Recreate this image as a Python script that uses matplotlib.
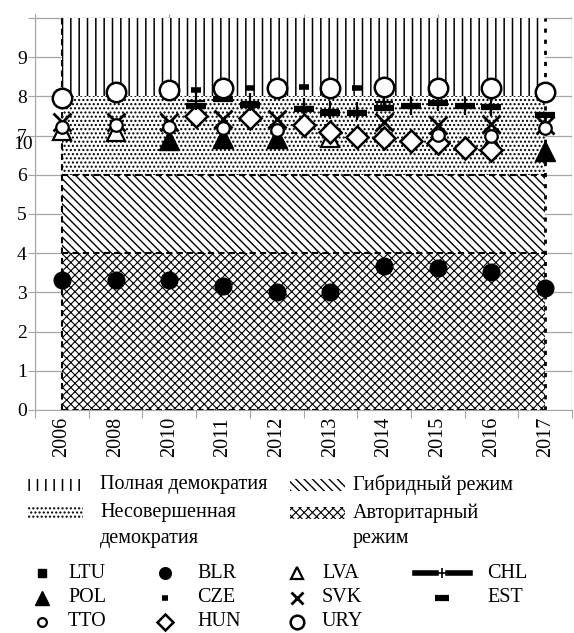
import numpy as np
import matplotlib.pyplot as plt
from matplotlib.patches import Rectangle

plt.rcParams['font.family'] = ['Liberation Serif', 'DejaVu Serif']
plt.rcParams['hatch.linewidth'] = 1.0

# ------------------------------------------
# data
# ------------------------------------------
years = ['2006', '2008', '2010', '2011', '2012', '2013', '2014', '2015', '2016', '2017']

# marker positions on the category axis (some series sit between years)
pos = [0, 1, 2, 2.5, 3, 3.5, 4, 4.5, 5, 5.5, 6, 6.5, 7, 7.5, 8, 9]

nan = np.nan
URY = [7.96, 8.10, 8.15, nan, 8.20, nan, 8.20, nan, 8.20, nan, 8.25, nan, 8.20, nan, 8.20, 8.12]
SVK = [7.35, 7.35, 7.35, nan, 7.42, nan, 7.42, nan, nan, nan, 7.35, nan, 7.27, nan, 7.30, 7.27]
TTO = [7.22, 7.27, 7.22, nan, 7.20, nan, 7.14, nan, nan, nan, nan, nan, 7.02, nan, 7.00, 7.18]
POL = [nan, nan, 6.88, nan, 6.93, nan, 6.93, nan, nan, nan, nan, nan, nan, nan, 6.85, 6.60]
LVA = [7.12, 7.10, nan, nan, 6.90, nan, 6.90, nan, 6.95, nan, nan, nan, nan, nan, nan, nan]
LTU = [nan] * 16
HUN = [nan, nan, nan, 7.50, nan, 7.45, nan, 7.27, 7.08, 6.96, 6.94, 6.85, 6.82, 6.68, 6.64, nan]
CZE = [nan, nan, nan, 8.16, nan, 8.20, nan, 8.25, 8.22, 8.20, nan, nan, nan, nan, nan, nan]
EST = [nan, nan, nan, 7.75, 7.93, 7.78, nan, 7.68, 7.58, 7.57, 7.70, 7.76, 7.83, 7.76, 7.72, 7.52]
CHL = [nan, nan, nan, 7.88, nan, 7.86, nan, 7.72, 7.64, 7.62, 7.86, 7.76, 7.85, 7.76, 7.74, nan]
BLR = [3.32, 3.32, 3.32, nan, 3.15, nan, 3.02, nan, 3.02, nan, 3.66, nan, 3.62, nan, 3.53, 3.11]

series = {'LVA': LVA, 'POL': POL, 'LTU': LTU, 'BLR': BLR, 'HUN': HUN, 'SVK': SVK,
          'TTO': TTO, 'CZE': CZE, 'EST': EST, 'CHL': CHL, 'URY': URY}

# regime bands
band_lo = [0, 4, 6, 8]
band_hi = [4, 6, 8, 10]
band_hatch = ['xxxx', '\\\\\\\\', '....', '||']
band_hlw = [0.8, 1.0, 1.0, 1.1]
band_names = ['Авторитарный\nрежим', 'Гибридный режим', 'Несовершенная\nдемократия', 'Полная демократия']

styles = {
    'LTU': dict(marker='s', ms=9, mfc='black', mec='black'),
    'POL': dict(marker='^', ms=14, mfc='black', mec='black'),
    'TTO': dict(marker='o', ms=9, mfc='white', mec='black', mew=1.6),
    'BLR': dict(marker='o', ms=12, mfc='black', mec='black'),
    'CZE': dict(marker='_', ms=7, mew=4, mec='black'),
    'HUN': dict(marker='D', ms=11.5, mfc='white', mec='black', mew=1.8),
    'LVA': dict(marker='^', ms=13, mfc='white', mec='black', mew=1.6),
    'SVK': dict(marker='x', ms=13, mec='black', mew=2),
    'URY': dict(marker='o', ms=14, mfc='white', mec='black', mew=1.8),
    'CHL': dict(marker='+', ms=13, mec='black', mew=1.6),
    'EST': dict(marker='_', ms=15, mew=4.5, mec='black'),
}


def hatch_lw(artist, lw):
    if hasattr(artist, 'set_hatch_linewidth'):
        artist.set_hatch_linewidth(lw)


# ------------------------------------------
# chart
# ------------------------------------------
fig = plt.figure(figsize=(5.74, 6.33), dpi=100)
ax = fig.add_axes([35 / 574, 1 - 410 / 633, 537 / 574, 396 / 633])
ax.set_xlim(-0.5, 9.5)
ax.set_ylim(0, 10.1)

x0, x1 = 0, len(years) - 1
for lo, hi, h, hl in zip(band_lo, band_hi, band_hatch, band_hlw):
    coll = ax.fill_between([x0, x1], lo, hi, facecolor='white', edgecolor='black',
                           hatch=h, linewidth=0, zorder=1)
    hatch_lw(coll, hl)
ax.hlines([0, 4, 6], x0, x1, colors='black', linestyles=(0, (3, 2)), lw=1.5, zorder=2)
ax.vlines(x0, 0, 10, colors='black', linestyles=(0, (3, 2)), lw=1.5, zorder=2)
ax.vlines(x1, 0, 10, colors='black', linestyles=(0, (1.5, 2.5)), lw=2, zorder=2)

grey = '#a6a6a6'
ax.set_yticks(range(11))
ax.set_yticklabels([str(i) for i in range(10)] + [''])
ax.yaxis.grid(True, color=grey, lw=0.9)
ax.vlines([-0.5, 2, 4.5, 7, 9.5], 0, 10.1, colors=grey, lw=0.9, zorder=0.5)
ax.set_axisbelow(True)

ax.set_xticks(np.arange(-0.5, 10, 1))
ax.set_xticklabels([])
ax.set_xticks(range(len(years)), minor=True)
ax.set_xticklabels(years, minor=True, rotation=90, fontsize=14.5)
ax.tick_params(axis='x', which='major', length=6, color=grey)
ax.tick_params(axis='x', which='minor', length=0, pad=5)
ax.tick_params(axis='y', length=5, color=grey, labelsize=14, pad=1)
for s in ['top', 'right']:
    ax.spines[s].set_visible(False)
for s in ['left', 'bottom']:
    ax.spines[s].set_color(grey)

# stray label of the top tick
ax.text(-0.54, 6.76, '10', ha='right', va='center', fontsize=14, clip_on=False)

for name, vals in series.items():
    ax.plot(pos, vals, linestyle='none', zorder=3, **styles[name])

# ------------------------------------------
# legends (drawn by hand in pixel coordinates)
# ------------------------------------------
lax = fig.add_axes([0, 0, 1, 1])
lax.set_xlim(0, 574)
lax.set_ylim(633, 0)
lax.axis('off')

patch_order = [3, 1, 2, 0]
patch_x = [28, 290, 28, 290]
patch_tx = [100, 353, 100, 353]
patch_y = [485, 485, 513, 513]
for k, b in enumerate(patch_order):
    p = Rectangle((patch_x[k], patch_y[k] - 6), 55, 12, facecolor='white',
                  edgecolor='black', hatch=band_hatch[b], linewidth=0)
    hatch_lw(p, band_hlw[b])
    lax.add_patch(p)
    for i, line in enumerate(band_names[b].split('\n')):
        lax.text(patch_tx[k], patch_y[k] + i * 26, line, fontsize=14.5, va='center')

legend_cols = [['LTU', 'POL', 'TTO'], ['BLR', 'CZE', 'HUN'], ['LVA', 'SVK', 'URY'], ['CHL', 'EST']]
mark_x = [42, 165, 297, 442]
text_x = [68, 197, 322, 487]
rows_y = [573, 598, 622]
for c, names in enumerate(legend_cols):
    for r, name in enumerate(names):
        st = dict(styles[name])
        st['ms'] = st['ms'] * 0.7
        if name == 'CHL':
            lax.plot([415, 436, nan, 448, 470], [rows_y[r]] * 5, color='black', lw=4)
            st['ms'] = 7
            st['mew'] = 1.2
        lax.plot([mark_x[c]], [rows_y[r]], linestyle='none', **st)
        lax.text(text_x[c], rows_y[r], name, fontsize=14.5, va='center')

plt.savefig('out.png', dpi=100)
